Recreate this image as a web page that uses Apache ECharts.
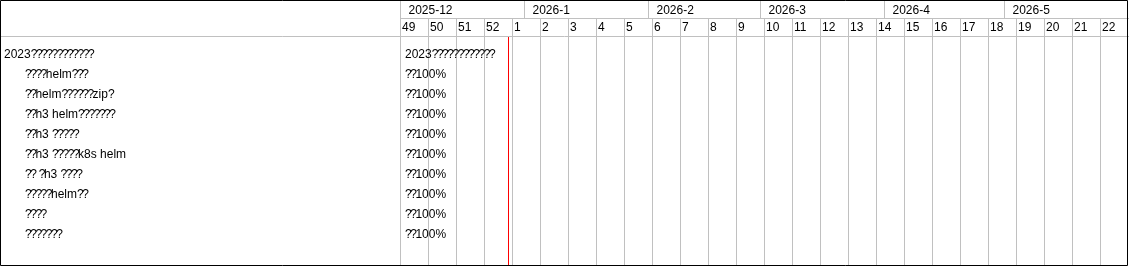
<!DOCTYPE html>
<html>
<head>
<meta charset="utf-8">
<script src="https://cdn.jsdelivr.net/npm/echarts@6/dist/echarts.min.js"></script>
<style>
html,body{margin:0;padding:0;background:#fff;}
#c{width:1129px;height:266px;}
</style>
</head>
<body>
<div id="c"></div>
<script>
// ---- data ----
const startDate = '2025-12-01';
const endDate = '2026-06-01';
const todayMark = '2025-12-28T03:00:00Z';
const monthLabels = ['2025-12', '2026-1', '2026-2', '2026-3', '2026-4', '2026-5'];
const monthStarts = ['2025-12-01', '2026-01-01', '2026-02-01', '2026-03-01', '2026-04-01', '2026-05-01'];
const weekLabels = ['49', '50', '51', '52', '1', '2', '3', '4', '5', '6', '7', '8', '9', '10', '11', '12', '13', '14', '15', '16', '17', '18', '19', '20', '21', '22'];
const taskNames = [
  '2023????????????',
  '????helm???',
  '??helm??????zip?',
  '??h3 helm???????',
  '??h3 ?????',
  '??h3 ?????k8s helm',
  '?? ?h3 ????',
  '?????helm??',
  '????',
  '???????'
];
const taskLevels = [0, 1, 1, 1, 1, 1, 1, 1, 1, 1];
const barLabels = [
  '2023????????????',
  '??100%', '??100%', '??100%', '??100%', '??100%', '??100%', '??100%', '??100%', '??100%'
];

// ---- helpers ----
const DAY = 86400000;
const t0 = Date.parse(startDate + 'T00:00:00Z');
const dayOf = s => (Date.parse(s.length > 10 ? s : s + 'T00:00:00Z') - t0) / DAY;
const totalDays = dayOf(endDate);
const FONT = '"Liberation Sans", Arial, sans-serif';
const GRAY = '#c0c0c0';
const W = 1129, H = 266;
const ROW_OFFSET = 0.95;

function richify(s) {
  return s.replace(/\?+|[^?]+/g, m => m[0] === '?' ? m.split('').map(() => '{q|?}').join('') : '{t|' + m + '}');
}
const rich = {
  q: { width: 5.2, fontSize: 12, fontFamily: FONT, fill: '#000', color: '#000' },
  t: { fontSize: 12, fontFamily: FONT, fill: '#000', color: '#000' }
};
function textEl(x, y, s) {
  return {
    type: 'text',
    style: { x: x, y: y, text: richify(s), rich: rich, fontSize: 12, fontFamily: FONT, fill: '#000', verticalAlign: 'middle', align: 'left' },
    silent: true
  };
}
const px = v => Math.floor(v) + 0.5;

const chart = echarts.init(document.getElementById('c'), null, { renderer: 'canvas' });
chart.setOption({
  animation: false,
  backgroundColor: '#fff',
  grid: { left: 400, right: 1, top: 36, bottom: 1, show: false },
  xAxis: { type: 'value', min: 0, max: totalDays, show: false },
  yAxis: { type: 'value', min: 0, max: 11.45, inverse: true, show: false },
  graphic: [
    { type: 'line', shape: { x1: 0, y1: 36.5, x2: W, y2: 36.5 }, style: { stroke: GRAY, lineWidth: 1 }, z: 5 },
    { type: 'line', shape: { x1: 400, y1: 18.5, x2: W, y2: 18.5 }, style: { stroke: GRAY, lineWidth: 1 }, z: 5 },
    { type: 'rect', shape: { x: 0.5, y: 0.5, width: W - 2, height: H - 1 }, style: { fill: null, stroke: '#000', lineWidth: 1 }, z: 10 }
  ],
  series: [
    {
      type: 'custom', name: 'weeks', clip: false, silent: true,
      data: weekLabels.map((w, i) => [i * 7, w]),
      renderItem: (params, api) => {
        const x = px(api.coord([api.value(0), 0])[0]);
        return {
          type: 'group', children: [
            { type: 'line', shape: { x1: x, y1: 18, x2: x, y2: H }, style: { stroke: GRAY, lineWidth: 1 } },
            textEl(x + 1.5, 28, weekLabels[params.dataIndex])
          ]
        };
      }
    },
    {
      type: 'custom', name: 'months', clip: false, silent: true,
      data: monthStarts.map((m, i) => [dayOf(m), i]),
      renderItem: (params, api) => {
        const x = px(api.coord([api.value(0), 0])[0]);
        return {
          type: 'group', children: [
            { type: 'line', shape: { x1: x, y1: 0, x2: x, y2: 18 }, style: { stroke: GRAY, lineWidth: 1 } },
            textEl(x + 8, 10.5, monthLabels[params.dataIndex])
          ]
        };
      }
    },
    {
      type: 'custom', name: 'tasks', clip: false, silent: true,
      data: taskNames.map((n, i) => [0, i + ROW_OFFSET]),
      renderItem: (params, api) => {
        const y = api.coord([0, api.value(1)])[1];
        return textEl(4 + taskLevels[params.dataIndex] * 21, y, taskNames[params.dataIndex]);
      }
    },
    {
      type: 'custom', name: 'barLabels', clip: false, silent: true,
      data: barLabels.map((n, i) => [0, i + ROW_OFFSET]),
      renderItem: (params, api) => {
        const p = api.coord([api.value(0), api.value(1)]);
        return textEl(p[0] + 5, p[1], barLabels[params.dataIndex]);
      }
    },
    {
      type: 'custom', name: 'today', clip: false, silent: true, z: 4,
      data: [[dayOf(todayMark), 0]],
      renderItem: (params, api) => {
        const x = px(api.coord([api.value(0), 0])[0]);
        return { type: 'line', shape: { x1: x, y1: 37, x2: x, y2: H }, style: { stroke: '#ff0000', lineWidth: 1 } };
      }
    }
  ]
});
</script>
</body>
</html>
